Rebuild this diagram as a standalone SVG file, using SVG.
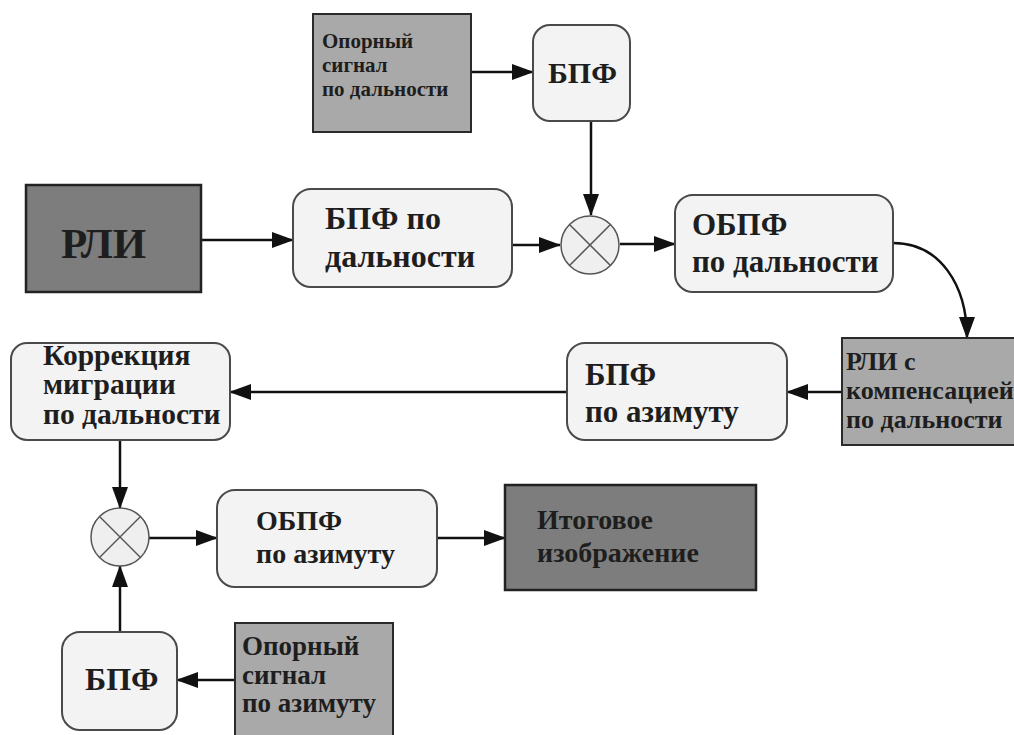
<svg xmlns="http://www.w3.org/2000/svg" width="1014" height="735" viewBox="0 0 1014 735">
<defs>
<marker id="ah" markerUnits="userSpaceOnUse" markerWidth="22" markerHeight="16" refX="21" refY="8" orient="auto">
<path d="M0,0 L22,8 L0,16 z" fill="#111"/>
</marker>
<style>
.t{font-family:'Liberation Serif','DejaVu Serif','Times New Roman',serif;font-weight:700;fill:#1e1e1e}
.rnd{fill:#f3f3f3;stroke:#4a4a4a;stroke-width:2}
.mid{fill:#a9a9a9;stroke:#2a2a2a;stroke-width:2}
.dark{fill:#7d7d7d;stroke:#222;stroke-width:2.5}
.mix{fill:#efefef;stroke:#555;stroke-width:1.5}
.x{stroke:#555;stroke-width:1.5}
.c{fill:none;stroke:#111;stroke-width:2.5;marker-end:url(#ah)}
</style>
</defs>
<rect width="1014" height="735" fill="#fff"/>
<g id="connectors">
<line class="c" x1="471" y1="72" x2="533" y2="72"/>
<line class="c" x1="591" y1="121" x2="591" y2="215"/>
<line class="c" x1="201" y1="240" x2="293" y2="240"/>
<line class="c" x1="512" y1="245" x2="560" y2="245"/>
<line class="c" x1="620" y1="244" x2="675" y2="244"/>
<path class="c" d="M893,243 C940,243 967,285 967,338"/>
<line class="c" x1="842" y1="392" x2="787" y2="392"/>
<line class="c" x1="567" y1="392" x2="230" y2="392"/>
<line class="c" x1="120" y1="440" x2="120" y2="508"/>
<line class="c" x1="149" y1="538" x2="217" y2="538"/>
<line class="c" x1="437" y1="538" x2="505" y2="538"/>
<line class="c" x1="235" y1="680" x2="177" y2="680"/>
<line class="c" x1="120" y1="632" x2="120" y2="566"/>
</g>
<g id="ref_range">
<rect class="mid" x="313" y="14" width="158" height="118"/>
<text class="t" font-size="21"><tspan x="322" y="48">Опорный</tspan><tspan x="322" y="72">сигнал</tspan><tspan x="322" y="96">по дальности</tspan></text>
</g>
<g id="fft_top">
<rect class="rnd" x="533" y="25" width="97" height="96" rx="17"/>
<text class="t" font-size="30" x="548" y="83">БПФ</text>
</g>
<g id="rli">
<rect class="dark" x="26" y="185" width="175" height="107"/>
<text class="t" font-size="43" x="61" y="258">РЛИ</text>
</g>
<g id="fft_range">
<rect class="rnd" x="293" y="189" width="219" height="98" rx="18"/>
<text class="t" font-size="32"><tspan x="325" y="229">БПФ по</tspan><tspan x="325" y="267">дальности</tspan></text>
</g>
<g id="mix1">
<circle class="mix" cx="590" cy="245" r="29"/>
<line class="x" x1="569.5" y1="224.5" x2="610.5" y2="265.5"/>
<line class="x" x1="610.5" y1="224.5" x2="569.5" y2="265.5"/>
</g>
<g id="ifft_range">
<rect class="rnd" x="675" y="195" width="218" height="97" rx="18"/>
<text class="t" font-size="31"><tspan x="692" y="235">ОБПФ</tspan><tspan x="692" y="272">по дальности</tspan></text>
</g>
<g id="rli_comp">
<rect class="mid" x="842" y="338" width="190" height="107"/>
<text class="t" font-size="26"><tspan x="846" y="370">РЛИ с</tspan><tspan x="846" y="399">компенсацией</tspan><tspan x="846" y="428">по дальности</tspan></text>
</g>
<g id="fft_az">
<rect class="rnd" x="567" y="343" width="220" height="97" rx="18"/>
<text class="t" font-size="31"><tspan x="585" y="385">БПФ</tspan><tspan x="585" y="422">по азимуту</tspan></text>
</g>
<g id="rcmc">
<rect class="rnd" x="11" y="343" width="219" height="97" rx="16"/>
<text class="t" font-size="29.5"><tspan x="43" y="365">Коррекция</tspan><tspan x="43" y="394">миграции</tspan><tspan x="43" y="424">по дальности</tspan></text>
</g>
<g id="mix2">
<circle class="mix" cx="120" cy="537" r="29"/>
<line class="x" x1="99.5" y1="516.5" x2="140.5" y2="557.5"/>
<line class="x" x1="140.5" y1="516.5" x2="99.5" y2="557.5"/>
</g>
<g id="ifft_az">
<rect class="rnd" x="217" y="490" width="220" height="97" rx="18"/>
<text class="t" font-size="28"><tspan x="256" y="530">ОБПФ</tspan><tspan x="256" y="563">по азимуту</tspan></text>
</g>
<g id="result">
<rect class="dark" x="505" y="485" width="251" height="105"/>
<text class="t" font-size="28"><tspan x="537" y="529">Итоговое</tspan><tspan x="537" y="562">изображение</tspan></text>
</g>
<g id="fft_bottom">
<rect class="rnd" x="62" y="632" width="115" height="98" rx="18"/>
<text class="t" font-size="32" x="85" y="690">БПФ</text>
</g>
<g id="ref_az">
<rect class="mid" x="235" y="623" width="158" height="120"/>
<text class="t" font-size="27"><tspan x="242" y="655">Опорный</tspan><tspan x="242" y="684">сигнал</tspan><tspan x="242" y="712">по азимуту</tspan></text>
</g>
</svg>
